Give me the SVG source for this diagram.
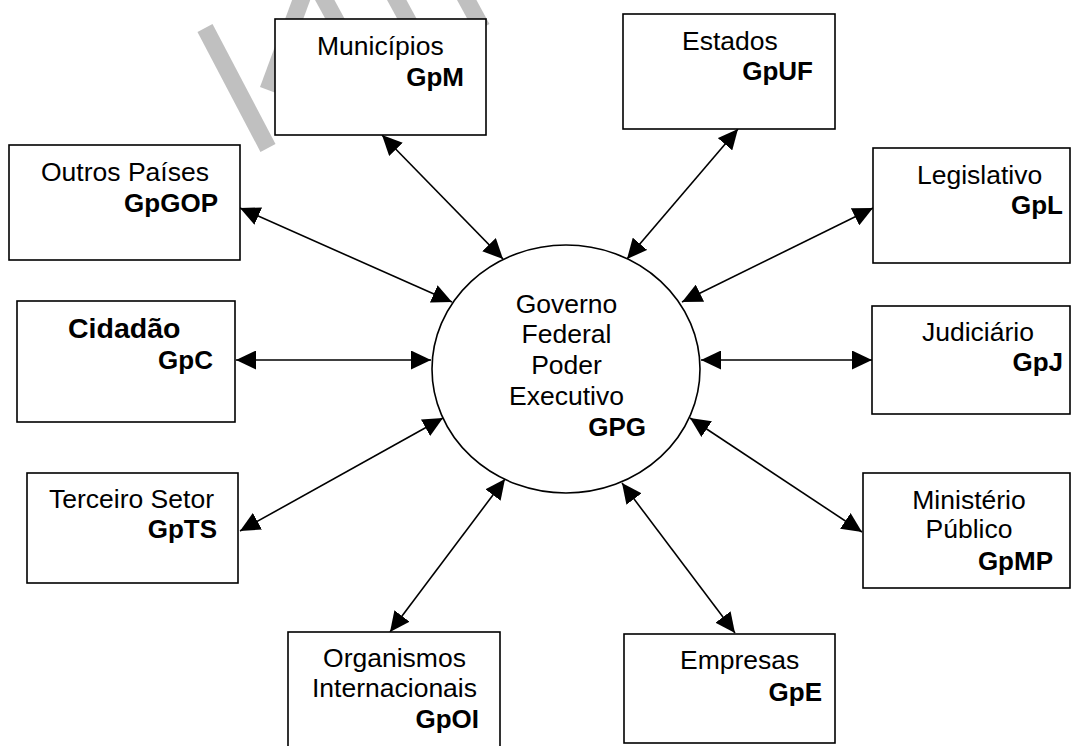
<svg xmlns="http://www.w3.org/2000/svg" width="1072" height="746" viewBox="0 0 1072 746">
<style>
  .box { fill: #ffffff; stroke: #000000; stroke-width: 1.6; }
  .t { font-family: "Liberation Sans", Arial, sans-serif; font-size: 26.5px; fill: #000000; }
  .b { font-family: "Liberation Sans", Arial, sans-serif; font-size: 26px; font-weight: bold; fill: #000000; }
  .e { text-anchor: end; }
  .m { text-anchor: middle; }
  .conn line { stroke: #000000; stroke-width: 1.6; marker-start: url(#ah); marker-end: url(#ah); }
  .wm line { stroke: #c0c0c0; stroke-width: 17; }
</style>
<defs>
  <marker id="ah" viewBox="0 0 20 19" refX="20" refY="9.5" markerWidth="20" markerHeight="19" markerUnits="userSpaceOnUse" orient="auto-start-reverse">
    <path d="M0,0 L20,9.5 L0,19 z" fill="#000000"/>
  </marker>
</defs>
<rect width="1072" height="746" fill="#ffffff"/>
<g id="watermark" class="wm">
  <line x1="205" y1="28" x2="268" y2="148"/>
  <line x1="268" y1="90" x2="303" y2="-5"/>
  <line x1="322" y1="-5" x2="340" y2="28"/>
  <line x1="394" y1="-5" x2="412" y2="28"/>
  <line x1="464" y1="-5" x2="482" y2="28"/>
</g>
<g id="connectors" class="conn">
  <line x1="382" y1="135" x2="503" y2="259"/>
  <line x1="738" y1="129" x2="627" y2="259"/>
  <line x1="240" y1="208" x2="452" y2="302"/>
  <line x1="873" y1="208" x2="682" y2="302"/>
  <line x1="236" y1="360" x2="431" y2="360"/>
  <line x1="872" y1="360" x2="701" y2="360"/>
  <line x1="240" y1="531" x2="443" y2="418"/>
  <line x1="862" y1="532" x2="690" y2="418"/>
  <line x1="390" y1="632" x2="505" y2="479"/>
  <line x1="735" y1="633" x2="622" y2="483"/>
</g>
<g id="municipios">
  <rect class="box" x="275" y="19" width="211" height="116"/>
  <text class="t" x="317" y="55">Municípios</text>
  <text class="b e" x="464" y="86">GpM</text>
</g>
<g id="estados">
  <rect class="box" x="623" y="14" width="212" height="115"/>
  <text class="t" x="682" y="50">Estados</text>
  <text class="b e" x="813" y="80">GpUF</text>
</g>
<g id="outros-paises">
  <rect class="box" x="9" y="145" width="231" height="115"/>
  <text class="t" x="41" y="181">Outros Países</text>
  <text class="b e" x="218" y="212">GpGOP</text>
</g>
<g id="cidadao">
  <rect class="box" x="17" y="301" width="218" height="121"/>
  <text class="b" x="68" y="338" style="font-size:28.5px">Cidadão</text>
  <text class="b e" x="213" y="369">GpC</text>
</g>
<g id="terceiro-setor">
  <rect class="box" x="27" y="473" width="211" height="110"/>
  <text class="t" x="49" y="508">Terceiro Setor</text>
  <text class="b e" x="217" y="538">GpTS</text>
</g>
<g id="legislativo">
  <rect class="box" x="873" y="148" width="197" height="115"/>
  <text class="t" x="917" y="184">Legislativo</text>
  <text class="b e" x="1063" y="214">GpL</text>
</g>
<g id="judiciario">
  <rect class="box" x="872" y="306" width="198" height="108"/>
  <text class="t" x="922" y="341">Judiciário</text>
  <text class="b e" x="1063" y="371">GpJ</text>
</g>
<g id="ministerio-publico">
  <rect class="box" x="863" y="473" width="207" height="115"/>
  <text class="t m" x="969" y="509">Ministério</text>
  <text class="t m" x="969" y="538">Público</text>
  <text class="b e" x="1053" y="570">GpMP</text>
</g>
<g id="organismos">
  <rect class="box" x="288" y="632" width="212" height="130"/>
  <text class="t m" x="394.5" y="667">Organismos</text>
  <text class="t m" x="394.5" y="697">Internacionais</text>
  <text class="b e" x="479" y="728">GpOI</text>
</g>
<g id="empresas">
  <rect class="box" x="624" y="634" width="211" height="109"/>
  <text class="t" x="680" y="669">Empresas</text>
  <text class="b e" x="822" y="701">GpE</text>
</g>
<g id="governo-federal">
  <ellipse class="box" cx="566" cy="369" rx="134" ry="124"/>
  <text class="t m" x="566.5" y="313">Governo</text>
  <text class="t m" x="566.5" y="343">Federal</text>
  <text class="t m" x="566.5" y="374">Poder</text>
  <text class="t m" x="566.5" y="405">Executivo</text>
  <text class="b e" x="646" y="436">GPG</text>
</g>
</svg>
